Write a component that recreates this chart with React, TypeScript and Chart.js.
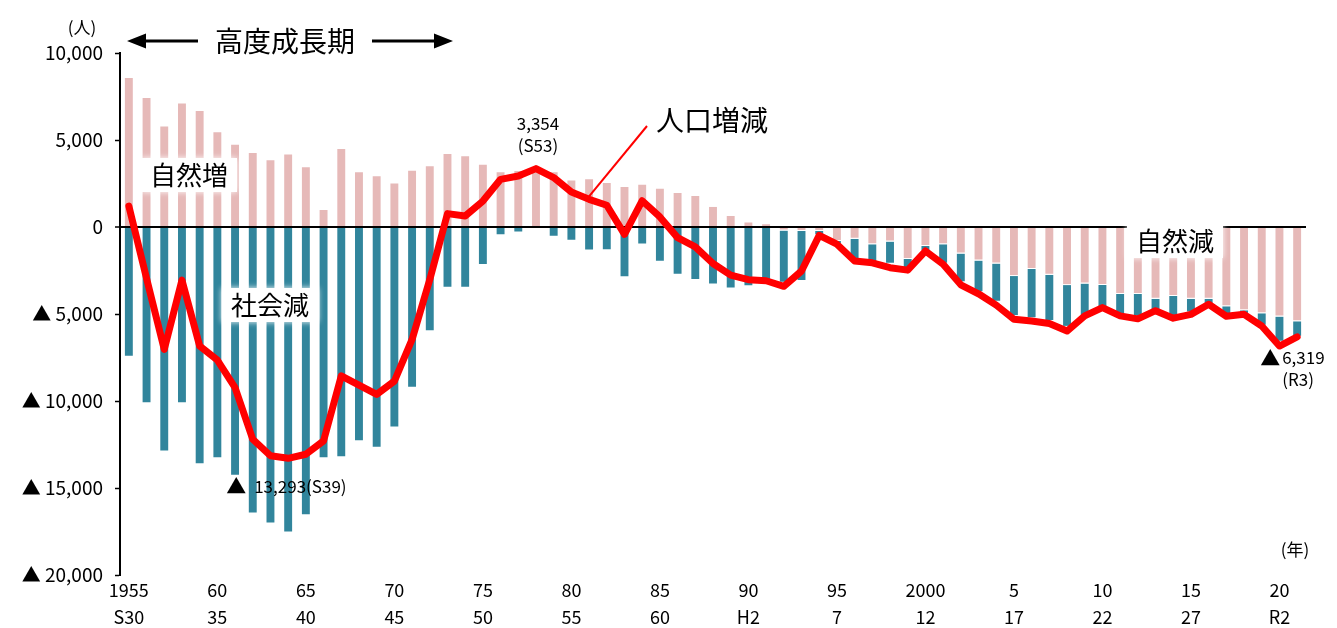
import React, { useEffect, useRef } from 'react';
import { Chart, registerables } from 'chart.js';

Chart.register(...registerables);

const years = [
  1955, 1956, 1957, 1958, 1959, 1960, 1961, 1962, 1963, 1964,
  1965, 1966, 1967, 1968, 1969, 1970, 1971, 1972, 1973, 1974,
  1975, 1976, 1977, 1978, 1979, 1980, 1981, 1982, 1983, 1984,
  1985, 1986, 1987, 1988, 1989, 1990, 1991, 1992, 1993, 1994,
  1995, 1996, 1997, 1998, 1999, 2000, 2001, 2002, 2003, 2004,
  2005, 2006, 2007, 2008, 2009, 2010, 2011, 2012, 2013, 2014,
  2015, 2016, 2017, 2018, 2019, 2020, 2021,
];

// 自然増減
const naturalChange = [
  8620, 7470, 5840, 7150, 6720, 5510, 4790, 4310, 3890, 4220,
  3490, 1030, 4540, 3200, 2970, 2560, 3290, 3550, 4260, 4120,
  3640, 3210, 3280, 3330, 3210, 2730, 2800, 2590, 2360, 2490,
  2260, 2010, 1840, 1210, 690, 310, 210, -200, -230, -230,
  -800, -670, -990, -830, -1840, -1090, -990, -1520, -1930, -2100,
  -2820, -2410, -2750, -3340, -3250, -3340, -3850, -3850, -4120, -3960,
  -4120, -4120, -4550, -4790, -4950, -5150, -5420,
];

// 社会増減
const socialChange = [
  -7450, -10130, -12900, -10130, -13630, -13290, -14300, -16460, -17040, -17560,
  -16560, -13290, -13230, -12310, -12680, -11530, -9240, -5990, -3490, -3490,
  -2190, -480, -320, 20, -560, -790, -1350, -1330, -2890, -1010,
  -2000, -2740, -3050, -3310, -3530, -3400, -3210, -3000, -2870, -250,
  -200, -1280, -1120, -1280, -540, -290, -1120, -1660, -1820, -2200,
  -2300, -2840, -2650, -2400, -1860, -1310, -1210, -1310, -690, -1150,
  -800, -400, -520, -210, -720, -1450, -890,
];

// 人口増減
const totalChange = [
  1200, -2950, -7030, -3050, -6840, -7650, -9230, -12200, -13150, -13293,
  -13060, -12290, -8560, -9090, -9620, -8860, -6460, -3020, 770, 630,
  1490, 2740, 2930, 3354, 2840, 2010, 1590, 1250, -420, 1510,
  580, -610, -1140, -2100, -2770, -3030, -3090, -3410, -2530, -480,
  -990, -1950, -2060, -2340, -2480, -1380, -2140, -3320, -3840, -4490,
  -5300, -5400, -5550, -5980, -5110, -4630, -5110, -5280, -4810, -5240,
  -5020, -4440, -5130, -5020, -5690, -6840, -6319,
];

const westernTickLabels = ['1955', '60', '65', '70', '75', '80', '85', '90', '95', '2000', '5', '10', '15', '20'];
const eraTickLabels = ['S30', '35', '40', '45', '50', '55', '60', 'H2', '7', '12', '17', '22', '27', 'R2'];

const FONT = '"Noto Sans CJK JP", "Noto Sans", sans-serif';
const PINK = '#E6B9B8';
const TEAL = '#31859C';
const RED = '#FF0000';

const fmt = (n: number) => Math.abs(n).toLocaleString('en-US');

const annotationPlugin = {
  id: 'chartAnnotations',
  afterDatasetsDraw(chart: any) {
    const { ctx } = chart;
    const xs = chart.scales.x;
    const ys = chart.scales.y;
    ctx.save();
    ctx.fillStyle = '#000';
    ctx.textBaseline = 'middle';

    const boxed = (text: string, cx: number, cy: number, size: number) => {
      ctx.font = `${size}px ${FONT}`;
      const w = ctx.measureText(text).width;
      ctx.save();
      ctx.fillStyle = '#fff';
      ctx.shadowColor = '#fff';
      ctx.shadowBlur = 6;
      ctx.fillRect(cx - w / 2 - 9, cy - size / 2 - 4, w + 18, size + 8);
      ctx.restore();
      ctx.textAlign = 'center';
      ctx.fillText(text, cx, cy);
    };

    // unit labels
    ctx.font = `17px ${FONT}`;
    ctx.textAlign = 'center';
    ctx.fillText('(人)', 82, 28);
    ctx.fillText('(年)', 1295, 550);

    // region labels
    boxed('自然増', 189, 175, 26);
    boxed('社会減', 270, 305, 26);
    boxed('自然減', 1175, 241, 26);

    // 高度成長期 with arrows
    ctx.font = `28px ${FONT}`;
    ctx.textAlign = 'center';
    ctx.fillText('高度成長期', 285, 41);
    ctx.strokeStyle = '#000';
    ctx.lineWidth = 3;
    ctx.beginPath();
    ctx.moveTo(140, 41);
    ctx.lineTo(198, 41);
    ctx.moveTo(372, 41);
    ctx.lineTo(440, 41);
    ctx.stroke();
    ctx.beginPath();
    ctx.moveTo(127, 41);
    ctx.lineTo(146, 33.5);
    ctx.lineTo(146, 48.5);
    ctx.closePath();
    ctx.moveTo(453, 41);
    ctx.lineTo(434, 33.5);
    ctx.lineTo(434, 48.5);
    ctx.closePath();
    ctx.fill();

    // 人口増減 label with leader line
    ctx.font = `28px ${FONT}`;
    ctx.textAlign = 'left';
    ctx.fillText('人口増減', 656, 120);
    ctx.strokeStyle = RED;
    ctx.lineWidth = 2;
    ctx.beginPath();
    ctx.moveTo(647, 126);
    ctx.lineTo(xs.getPixelForValue(26), ys.getPixelForValue(totalChange[26]) - 3);
    ctx.stroke();

    // peak label 3,354 (S53)
    const peakIdx = 23;
    const px = xs.getPixelForValue(peakIdx);
    const py = ys.getPixelForValue(totalChange[peakIdx]);
    ctx.font = `17px ${FONT}`;
    ctx.textAlign = 'center';
    ctx.fillText(fmt(totalChange[peakIdx]), px + 2, py - 45);
    ctx.fillText('(S53)', px + 2, py - 23);

    // trough label ▲13,293(S39)
    const lowIdx = 9;
    const lx = xs.getPixelForValue(lowIdx);
    const ly = ys.getPixelForValue(totalChange[lowIdx]);
    ctx.font = `20px ${FONT}`;
    ctx.textAlign = 'center';
    ctx.fillText('▲', lx - 52, ly + 28);
    ctx.font = `17px ${FONT}`;
    ctx.textAlign = 'left';
    ctx.fillText(fmt(totalChange[lowIdx]) + '(S39)', lx - 34, ly + 28);

    // last label ▲6,319 (R3)
    const endIdx = totalChange.length - 1;
    const ex = xs.getPixelForValue(endIdx);
    const ey = ys.getPixelForValue(totalChange[endIdx]);
    ctx.font = `20px ${FONT}`;
    ctx.textAlign = 'center';
    ctx.fillText('▲', ex - 27, ey + 21);
    ctx.font = `17px ${FONT}`;
    ctx.textAlign = 'left';
    ctx.fillText(fmt(totalChange[endIdx]), ex - 15, ey + 21);
    ctx.fillText('(R3)', ex - 15, ey + 43);

    ctx.restore();
  },
};

export default function App() {
  const canvasRef = useRef<HTMLCanvasElement | null>(null);

  useEffect(() => {
    document.body.style.margin = '0';
    const canvas = canvasRef.current;
    if (!canvas) return;
    const chart = new Chart(canvas, {
      type: 'bar',
      data: {
        labels: years.map(String),
        datasets: [
          {
            type: 'line',
            label: '人口増減',
            data: totalChange,
            borderColor: RED,
            backgroundColor: RED,
            borderWidth: 7,
            pointRadius: 0,
            tension: 0,
            borderJoinStyle: 'round',
            borderCapStyle: 'round',
            order: 0,
            stack: 'total',
          } as any,
          {
            type: 'bar',
            label: '自然増減',
            data: naturalChange,
            backgroundColor: PINK,
            borderColor: '#fff',
            borderWidth: 1,
            barPercentage: 0.56,
            categoryPercentage: 1,
            order: 1,
            stack: 'bars',
          },
          {
            type: 'bar',
            label: '社会増減',
            data: socialChange,
            backgroundColor: TEAL,
            borderColor: '#fff',
            borderWidth: 1,
            barPercentage: 0.56,
            categoryPercentage: 1,
            order: 1,
            stack: 'bars',
          },
        ],
      },
      options: {
        animation: false,
        responsive: true,
        maintainAspectRatio: false,
        layout: { padding: { left: 0, right: 31, top: 53, bottom: 0 } },
        plugins: {
          legend: { display: false },
          tooltip: { enabled: false },
        },
        scales: {
          x: {
            stacked: true,
            offset: true,
            grid: { display: false, drawTicks: false },
            border: { display: false },
            ticks: {
              autoSkip: false,
              maxRotation: 0,
              minRotation: 0,
              padding: 2,
              color: '#000',
              font: { family: FONT, size: 18, lineHeight: 1.5 },
              callback: (_v: any, i: number) =>
                i % 5 === 0 ? [westernTickLabels[i / 5], eraTickLabels[i / 5]] : '',
            },
            afterFit: (scale: any) => {
              scale.height = 53;
            },
          },
          y: {
            stacked: true,
            min: -20000,
            max: 10000,
            ticks: {
              stepSize: 5000,
              padding: 12,
              color: '#000',
              font: { family: FONT, size: 19 },
              callback: (v: any) => (v < 0 ? '▲ ' + fmt(v) : fmt(v)),
            },
            grid: {
              color: (c: any) => (c.tick && c.tick.value === 0 ? '#000' : 'rgba(0,0,0,0)'),
              lineWidth: (c: any) => (c.tick && c.tick.value === 0 ? 2 : 1),
              drawTicks: true,
              tickLength: 5,
              tickColor: '#000',
              tickWidth: 1.5,
            },
            border: { display: true, color: '#000', width: 2 },
            afterFit: (scale: any) => {
              scale.width = 120;
            },
          },
        },
      },
      plugins: [annotationPlugin],
    });
    return () => chart.destroy();
  }, []);

  return (
    <div style={{ width: 1337, height: 628, position: 'relative', background: '#fff' }}>
      <canvas ref={canvasRef} />
    </div>
  );
}
